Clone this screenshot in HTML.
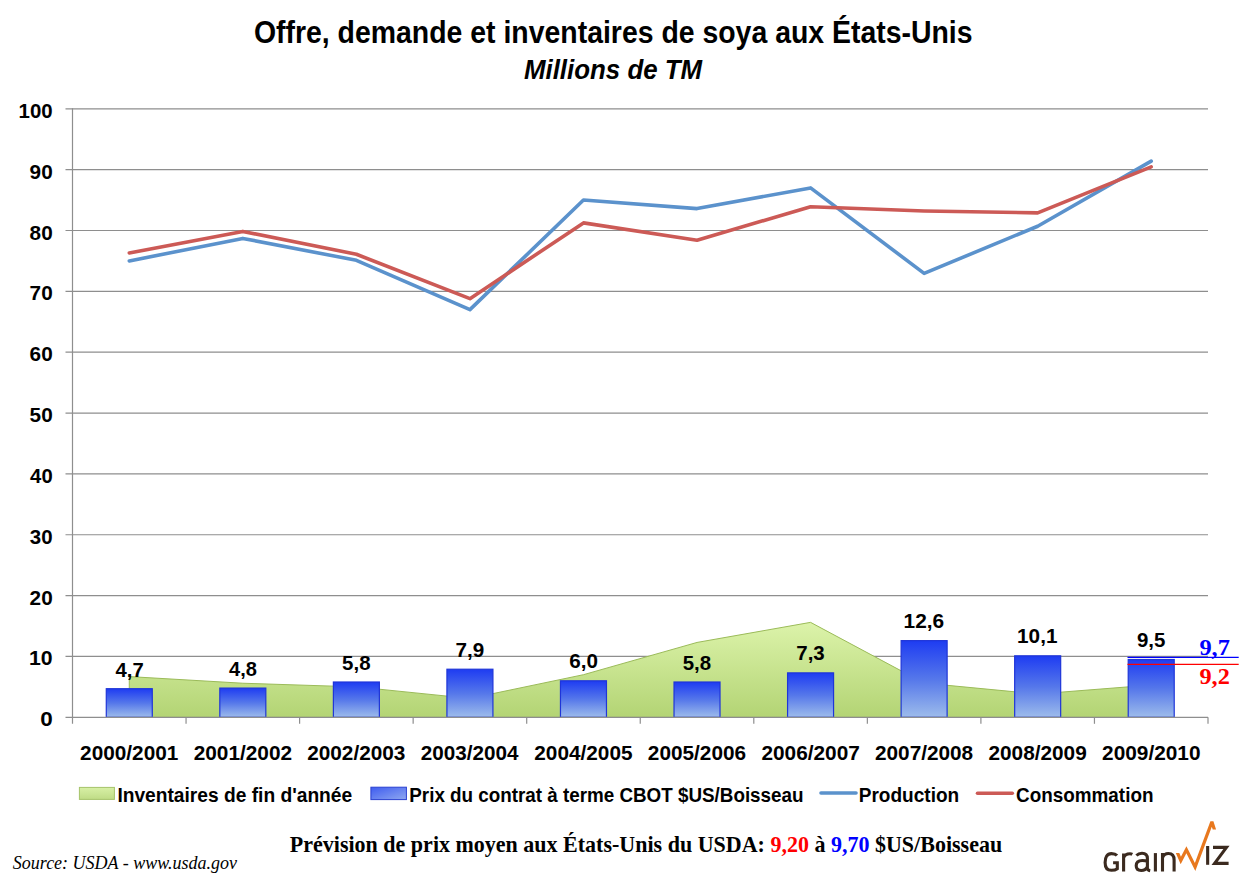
<!DOCTYPE html>
<html><head><meta charset="utf-8"><title>Offre, demande et inventaires de soya aux États-Unis</title>
<style>html,body{margin:0;padding:0;background:#fff;width:1247px;height:879px;overflow:hidden}svg{position:absolute;left:0;top:0;display:block}</style></head>
<body><svg width="1247" height="879" viewBox="0 0 1247 879">
<defs>
<linearGradient id="ga" x1="0" y1="0" x2="0" y2="1"><stop offset="0" stop-color="#DCF3AA"/><stop offset="1" stop-color="#B3D474"/></linearGradient>
<linearGradient id="gb" x1="0" y1="0" x2="0" y2="1"><stop offset="0" stop-color="#1E3CF2"/><stop offset="0.5" stop-color="#5577EA"/><stop offset="1" stop-color="#9DBCEB"/></linearGradient>
<linearGradient id="gl" x1="0" y1="0" x2="0" y2="1"><stop offset="0" stop-color="#D8F0A6"/><stop offset="1" stop-color="#BFDC86"/></linearGradient>
<linearGradient id="glb" x1="0" y1="0" x2="1" y2="1"><stop offset="0" stop-color="#3E5CF0"/><stop offset="1" stop-color="#8FA8F0"/></linearGradient>
</defs>
<g stroke="#8E8E8E" stroke-width="1.2" fill="none">
<line x1="65.5" y1="656.45" x2="1208.0" y2="656.45"/>
<line x1="65.5" y1="595.60" x2="1208.0" y2="595.60"/>
<line x1="65.5" y1="534.75" x2="1208.0" y2="534.75"/>
<line x1="65.5" y1="473.90" x2="1208.0" y2="473.90"/>
<line x1="65.5" y1="413.05" x2="1208.0" y2="413.05"/>
<line x1="65.5" y1="352.20" x2="1208.0" y2="352.20"/>
<line x1="65.5" y1="291.35" x2="1208.0" y2="291.35"/>
<line x1="65.5" y1="230.50" x2="1208.0" y2="230.50"/>
<line x1="65.5" y1="169.65" x2="1208.0" y2="169.65"/>
<line x1="65.5" y1="108.80" x2="1208.0" y2="108.80"/>
</g>
<path d="M129.28,717.30 L129.28,676.59 L242.82,683.22 L356.38,686.88 L469.93,698.44 L583.47,674.70 L697.02,642.45 L810.57,622.37 L924.12,683.10 L1037.67,693.99 L1151.22,685.05 L1151.22,717.30 Z" fill="url(#ga)" stroke="#9BBB59" stroke-width="1" stroke-linejoin="round"/>
<rect x="106.28" y="688.70" width="46" height="28.60" fill="url(#gb)" stroke="#1F35D8" stroke-width="1.2"/>
<rect x="219.82" y="688.09" width="46" height="29.21" fill="url(#gb)" stroke="#1F35D8" stroke-width="1.2"/>
<rect x="333.38" y="682.01" width="46" height="35.29" fill="url(#gb)" stroke="#1F35D8" stroke-width="1.2"/>
<rect x="446.93" y="669.23" width="46" height="48.07" fill="url(#gb)" stroke="#1F35D8" stroke-width="1.2"/>
<rect x="560.47" y="680.79" width="46" height="36.51" fill="url(#gb)" stroke="#1F35D8" stroke-width="1.2"/>
<rect x="674.02" y="682.01" width="46" height="35.29" fill="url(#gb)" stroke="#1F35D8" stroke-width="1.2"/>
<rect x="787.57" y="672.88" width="46" height="44.42" fill="url(#gb)" stroke="#1F35D8" stroke-width="1.2"/>
<rect x="901.12" y="640.63" width="46" height="76.67" fill="url(#gb)" stroke="#1F35D8" stroke-width="1.2"/>
<rect x="1014.67" y="655.84" width="46" height="61.46" fill="url(#gb)" stroke="#1F35D8" stroke-width="1.2"/>
<rect x="1128.22" y="659.49" width="46" height="57.81" fill="url(#gb)" stroke="#1F35D8" stroke-width="1.2"/>
<g stroke="#8E8E8E" stroke-width="1.2" fill="none">
<line x1="72.5" y1="108.20" x2="72.5" y2="723.80"/>
<line x1="65.5" y1="717.30" x2="1208.0" y2="717.30"/>
<line x1="186.05" y1="717.30" x2="186.05" y2="723.80"/>
<line x1="299.60" y1="717.30" x2="299.60" y2="723.80"/>
<line x1="413.15" y1="717.30" x2="413.15" y2="723.80"/>
<line x1="526.70" y1="717.30" x2="526.70" y2="723.80"/>
<line x1="640.25" y1="717.30" x2="640.25" y2="723.80"/>
<line x1="753.80" y1="717.30" x2="753.80" y2="723.80"/>
<line x1="867.35" y1="717.30" x2="867.35" y2="723.80"/>
<line x1="980.90" y1="717.30" x2="980.90" y2="723.80"/>
<line x1="1094.45" y1="717.30" x2="1094.45" y2="723.80"/>
<line x1="1208.00" y1="717.30" x2="1208.00" y2="723.80"/>
</g>
<path d="M129.28,260.92 L242.82,238.41 L356.38,260.32 L469.93,309.60 L583.47,200.07 L697.02,208.59 L810.57,187.90 L924.12,273.40 L1037.67,226.24 L1151.22,161.13" fill="none" stroke="#5B92CC" stroke-width="3.6" stroke-linejoin="round" stroke-linecap="round"/>
<path d="M129.28,253.01 L242.82,231.41 L356.38,254.23 L469.93,298.65 L583.47,222.89 L697.02,240.24 L810.57,206.77 L924.12,211.03 L1037.67,212.85 L1151.22,166.91" fill="none" stroke="#CC5A56" stroke-width="3.6" stroke-linejoin="round" stroke-linecap="round"/>
<line x1="1127.5" y1="657.4" x2="1238.7" y2="657.4" stroke="#0000FF" stroke-width="1.2"/>
<line x1="1127.5" y1="664.3" x2="1238.7" y2="664.3" stroke="#FF0000" stroke-width="1.2"/>
<rect x="79.4" y="787.4" width="35" height="12" fill="url(#gl)" stroke="#A6C46A" stroke-width="1"/>
<rect x="370.9" y="787.2" width="35.5" height="12.4" fill="url(#glb)" stroke="#2A40D0" stroke-width="1"/>
<line x1="821" y1="793" x2="856" y2="793" stroke="#5B92CC" stroke-width="3.6" stroke-linecap="round"/>
<line x1="977.5" y1="793.2" x2="1012.3" y2="793.2" stroke="#CC5A56" stroke-width="3.6" stroke-linecap="round"/>
<g fill="none">
<g stroke="#3B2A1F" stroke-width="3.1" stroke-linecap="butt" stroke-linejoin="miter">
<path d="M1117.0,855.6 C1115.6,854.0 1113.6,853.6 1111.4,853.6 C1107.1,853.6 1105.1,857.6 1105.1,862.4 C1105.1,867.4 1107.4,870.3 1111.4,870.3 C1113.9,870.3 1115.9,869.8 1117.3,868.7 L1117.3,862.7 L1113.1,862.7"/>
<path d="M1123.6,871.6 L1123.6,853.6 M1123.6,857.8 C1124.6,854.9 1127.4,853.8 1130.0,853.8 C1130.9,853.8 1131.6,854.0 1132.3,854.4"/>
<path d="M1136.4,855.5 C1137.9,854.0 1139.8,853.3 1142.0,853.3 C1145.6,853.3 1147.4,855.0 1147.4,858.6 L1147.4,868.3 C1147.4,869.6 1148.2,870.4 1150.2,870.8 M1147.4,861.5 C1146.0,860.7 1144.3,860.5 1142.3,860.5 C1138.1,860.5 1136.2,862.7 1136.2,865.8 C1136.2,868.8 1138.2,870.5 1141.2,870.5 C1143.9,870.5 1146.2,869.2 1147.4,866.8"/>
<path d="M1155.4,853.1 L1155.4,871.5"/>
<path d="M1162.5,871.5 L1162.5,853.1 M1162.5,857.8 C1163.7,854.7 1165.9,853.5 1168.4,853.5 C1172.3,853.5 1174.1,855.8 1174.1,860.0 L1174.1,871.5"/>
<path d="M1207.65,846.0 L1207.65,864.8"/>
<path d="M1213.0,847.4 L1226.5,847.4 L1214.6,863.4 L1228.6,863.4"/>
</g>
<path d="M1175.81,853.00 L1180.67,864.36 L1186.38,853.24 L1195.32,871.11 L1211.80,826.67 L1212.72,829.50 L1216.08,829.50 L1213.42,821.31 L1210.40,821.24 L1194.88,863.09 L1186.42,846.16 L1180.93,856.84 L1179.29,853.00 Z" fill="#E8781E" stroke="none"/>
</g>
<text id="title" x="253.94" y="42.56" font-family="&quot;Liberation Sans&quot;, sans-serif" font-weight="bold" font-style="normal" font-size="30.67" textLength="718.60" lengthAdjust="spacingAndGlyphs" fill="#000">Offre, demande et inventaires de soya aux États-Unis</text>
<text id="sub" x="523.93" y="78.70" font-family="&quot;Liberation Sans&quot;, sans-serif" font-weight="bold" font-style="italic" font-size="27.34" textLength="178.21" lengthAdjust="spacingAndGlyphs" fill="#000">Millions de TM</text>
<text id="y0" x="40.25" y="726.30" font-family="&quot;Liberation Sans&quot;, sans-serif" font-weight="bold" font-style="normal" font-size="19.79" textLength="12.51" lengthAdjust="spacingAndGlyphs" fill="#000">0</text>
<text id="y10" x="29.06" y="665.45" font-family="&quot;Liberation Sans&quot;, sans-serif" font-weight="bold" font-style="normal" font-size="19.79" textLength="23.66" lengthAdjust="spacingAndGlyphs" fill="#000">10</text>
<text id="y20" x="29.61" y="604.60" font-family="&quot;Liberation Sans&quot;, sans-serif" font-weight="bold" font-style="normal" font-size="19.79" textLength="23.08" lengthAdjust="spacingAndGlyphs" fill="#000">20</text>
<text id="y30" x="29.88" y="543.75" font-family="&quot;Liberation Sans&quot;, sans-serif" font-weight="bold" font-style="normal" font-size="19.79" textLength="22.80" lengthAdjust="spacingAndGlyphs" fill="#000">30</text>
<text id="y40" x="30.14" y="482.90" font-family="&quot;Liberation Sans&quot;, sans-serif" font-weight="bold" font-style="normal" font-size="19.79" textLength="22.53" lengthAdjust="spacingAndGlyphs" fill="#000">40</text>
<text id="y50" x="29.61" y="422.05" font-family="&quot;Liberation Sans&quot;, sans-serif" font-weight="bold" font-style="normal" font-size="19.79" textLength="23.08" lengthAdjust="spacingAndGlyphs" fill="#000">50</text>
<text id="y60" x="29.61" y="361.20" font-family="&quot;Liberation Sans&quot;, sans-serif" font-weight="bold" font-style="normal" font-size="19.79" textLength="23.08" lengthAdjust="spacingAndGlyphs" fill="#000">60</text>
<text id="y70" x="29.61" y="300.35" font-family="&quot;Liberation Sans&quot;, sans-serif" font-weight="bold" font-style="normal" font-size="19.79" textLength="23.08" lengthAdjust="spacingAndGlyphs" fill="#000">70</text>
<text id="y80" x="29.61" y="239.50" font-family="&quot;Liberation Sans&quot;, sans-serif" font-weight="bold" font-style="normal" font-size="19.79" textLength="23.08" lengthAdjust="spacingAndGlyphs" fill="#000">80</text>
<text id="y90" x="29.61" y="178.65" font-family="&quot;Liberation Sans&quot;, sans-serif" font-weight="bold" font-style="normal" font-size="19.79" textLength="23.08" lengthAdjust="spacingAndGlyphs" fill="#000">90</text>
<text id="y100" x="18.61" y="117.80" font-family="&quot;Liberation Sans&quot;, sans-serif" font-weight="bold" font-style="normal" font-size="19.79" textLength="34.08" lengthAdjust="spacingAndGlyphs" fill="#000">100</text>
<text id="b0" x="115.52" y="676.50" font-family="&quot;Liberation Sans&quot;, sans-serif" font-weight="bold" font-style="normal" font-size="20.07" textLength="28.16" lengthAdjust="spacingAndGlyphs" fill="#000">4,7</text>
<text id="b1" x="229.07" y="675.70" font-family="&quot;Liberation Sans&quot;, sans-serif" font-weight="bold" font-style="normal" font-size="19.50" textLength="27.89" lengthAdjust="spacingAndGlyphs" fill="#000">4,8</text>
<text id="b2" x="342.09" y="669.61" font-family="&quot;Liberation Sans&quot;, sans-serif" font-weight="bold" font-style="normal" font-size="19.50" textLength="28.43" lengthAdjust="spacingAndGlyphs" fill="#000">5,8</text>
<text id="b3" x="455.63" y="656.83" font-family="&quot;Liberation Sans&quot;, sans-serif" font-weight="bold" font-style="normal" font-size="19.50" textLength="28.71" lengthAdjust="spacingAndGlyphs" fill="#000">7,9</text>
<text id="b4" x="569.18" y="668.39" font-family="&quot;Liberation Sans&quot;, sans-serif" font-weight="bold" font-style="normal" font-size="19.50" textLength="28.71" lengthAdjust="spacingAndGlyphs" fill="#000">6,0</text>
<text id="b5" x="682.74" y="669.61" font-family="&quot;Liberation Sans&quot;, sans-serif" font-weight="bold" font-style="normal" font-size="19.50" textLength="28.43" lengthAdjust="spacingAndGlyphs" fill="#000">5,8</text>
<text id="b6" x="796.29" y="660.48" font-family="&quot;Liberation Sans&quot;, sans-serif" font-weight="bold" font-style="normal" font-size="19.50" textLength="28.43" lengthAdjust="spacingAndGlyphs" fill="#000">7,3</text>
<text id="b7" x="903.54" y="628.23" font-family="&quot;Liberation Sans&quot;, sans-serif" font-weight="bold" font-style="normal" font-size="19.50" textLength="40.60" lengthAdjust="spacingAndGlyphs" fill="#000">12,6</text>
<text id="b8" x="1017.10" y="643.45" font-family="&quot;Liberation Sans&quot;, sans-serif" font-weight="bold" font-style="normal" font-size="19.50" textLength="40.32" lengthAdjust="spacingAndGlyphs" fill="#000">10,1</text>
<text id="b9" x="1136.94" y="647.10" font-family="&quot;Liberation Sans&quot;, sans-serif" font-weight="bold" font-style="normal" font-size="19.50" textLength="28.43" lengthAdjust="spacingAndGlyphs" fill="#000">9,5</text>
<text id="x0" x="80.11" y="759.79" font-family="&quot;Liberation Sans&quot;, sans-serif" font-weight="bold" font-style="normal" font-size="20.50" textLength="98.19" lengthAdjust="spacingAndGlyphs" fill="#000">2000/2001</text>
<text id="x1" x="193.66" y="759.79" font-family="&quot;Liberation Sans&quot;, sans-serif" font-weight="bold" font-style="normal" font-size="20.50" textLength="98.45" lengthAdjust="spacingAndGlyphs" fill="#000">2001/2002</text>
<text id="x2" x="307.21" y="759.79" font-family="&quot;Liberation Sans&quot;, sans-serif" font-weight="bold" font-style="normal" font-size="20.50" textLength="98.19" lengthAdjust="spacingAndGlyphs" fill="#000">2002/2003</text>
<text id="x3" x="420.77" y="759.79" font-family="&quot;Liberation Sans&quot;, sans-serif" font-weight="bold" font-style="normal" font-size="20.50" textLength="97.68" lengthAdjust="spacingAndGlyphs" fill="#000">2003/2004</text>
<text id="x4" x="534.32" y="759.79" font-family="&quot;Liberation Sans&quot;, sans-serif" font-weight="bold" font-style="normal" font-size="20.50" textLength="98.19" lengthAdjust="spacingAndGlyphs" fill="#000">2004/2005</text>
<text id="x5" x="647.87" y="759.79" font-family="&quot;Liberation Sans&quot;, sans-serif" font-weight="bold" font-style="normal" font-size="20.50" textLength="98.19" lengthAdjust="spacingAndGlyphs" fill="#000">2005/2006</text>
<text id="x6" x="761.41" y="759.79" font-family="&quot;Liberation Sans&quot;, sans-serif" font-weight="bold" font-style="normal" font-size="20.50" textLength="98.45" lengthAdjust="spacingAndGlyphs" fill="#000">2006/2007</text>
<text id="x7" x="874.97" y="759.79" font-family="&quot;Liberation Sans&quot;, sans-serif" font-weight="bold" font-style="normal" font-size="20.50" textLength="98.19" lengthAdjust="spacingAndGlyphs" fill="#000">2007/2008</text>
<text id="x8" x="988.51" y="759.79" font-family="&quot;Liberation Sans&quot;, sans-serif" font-weight="bold" font-style="normal" font-size="20.50" textLength="98.19" lengthAdjust="spacingAndGlyphs" fill="#000">2008/2009</text>
<text id="x9" x="1102.06" y="759.79" font-family="&quot;Liberation Sans&quot;, sans-serif" font-weight="bold" font-style="normal" font-size="20.50" textLength="98.45" lengthAdjust="spacingAndGlyphs" fill="#000">2009/2010</text>
<text id="lg0" x="117.38" y="801.70" font-family="&quot;Liberation Sans&quot;, sans-serif" font-weight="bold" font-style="normal" font-size="19.64" textLength="234.79" lengthAdjust="spacingAndGlyphs" fill="#000">Inventaires de fin d'année</text>
<text id="lg1" x="409.30" y="801.70" font-family="&quot;Liberation Sans&quot;, sans-serif" font-weight="bold" font-style="normal" font-size="19.64" textLength="394.16" lengthAdjust="spacingAndGlyphs" fill="#000">Prix du contrat à terme CBOT $US/Boisseau</text>
<text id="lg2" x="858.79" y="801.70" font-family="&quot;Liberation Sans&quot;, sans-serif" font-weight="bold" font-style="normal" font-size="19.64" textLength="100.39" lengthAdjust="spacingAndGlyphs" fill="#000">Production</text>
<text id="lg3" x="1016.08" y="801.70" font-family="&quot;Liberation Sans&quot;, sans-serif" font-weight="bold" font-style="normal" font-size="19.65" textLength="137.40" lengthAdjust="spacingAndGlyphs" fill="#000">Consommation</text>
<text id="bot" x="289.83" y="852.00" font-family="&quot;Liberation Serif&quot;, serif" font-weight="bold" font-style="normal" font-size="23.21" textLength="712.34" lengthAdjust="spacingAndGlyphs" fill="#000">Prévision de prix moyen aux États-Unis du USDA: <tspan fill="#FF0000">9,20</tspan> à <tspan fill="#0000FF">9,70</tspan> $US/Boisseau</text>
<text id="src" x="12.80" y="868.82" font-family="&quot;Liberation Serif&quot;, serif" font-weight="normal" font-style="italic" font-size="17.84" textLength="224.11" lengthAdjust="spacingAndGlyphs" fill="#000">Source: USDA - www.usda.gov</text>
<text id="p97" x="1199.44" y="654.66" font-family="&quot;Liberation Serif&quot;, serif" font-weight="bold" font-style="normal" font-size="23.94" textLength="30.45" lengthAdjust="spacingAndGlyphs" fill="#0000FF">9,7</text>
<text id="p92" x="1199.44" y="683.66" font-family="&quot;Liberation Serif&quot;, serif" font-weight="bold" font-style="normal" font-size="23.94" textLength="30.40" lengthAdjust="spacingAndGlyphs" fill="#FF0000">9,2</text>
</svg></body></html>
